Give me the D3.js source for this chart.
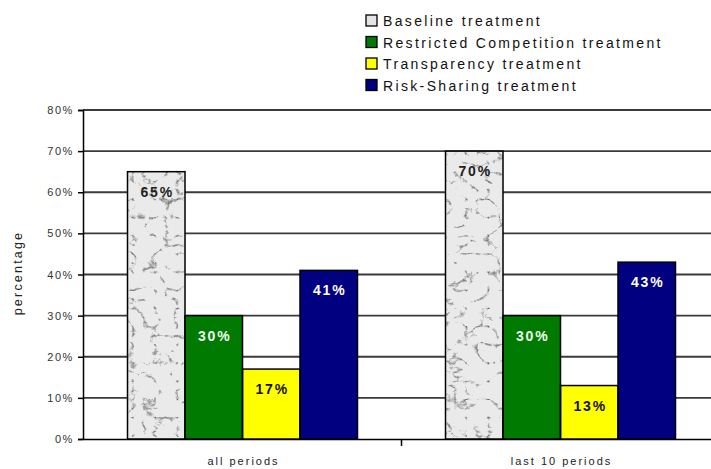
<!DOCTYPE html>
<html>
<head>
<meta charset="utf-8">
<script src="https://cdn.jsdelivr.net/npm/d3@7"></script>
<style>
  html, body { margin: 0; padding: 0; background: #fff; }
  svg { display: block; font-family: "Liberation Sans", Arial, sans-serif; }
</style>
</head>
<body>
<svg id="chart" width="711" height="469"></svg>
<script>
// Share of outcomes per treatment, over all periods and the last 10 periods
const groups = ["all periods", "last 10 periods"];
const series = [
  "Baseline treatment",
  "Restricted Competition treatment",
  "Transparency treatment",
  "Risk-Sharing treatment"
];
const allPeriods = [0.65, 0.30, 0.17, 0.41];
const last10Periods = [0.70, 0.30, 0.13, 0.43];
const yTicks = [0, 0.1, 0.2, 0.3, 0.4, 0.5, 0.6, 0.7, 0.8];
const seriesColors = ["#e4e4e4", "#007a00", "#ffff00", "#000080"];
const labelColors = ["#222", "#f0fff0", "#111", "#fff"];

const rows = [allPeriods, last10Periods];

const svg = d3.select("#chart");
const W = 711, H = 469;
const plot = { left: 83, right: 719.5, top: 110, bottom: 439 };

// Marble texture for the baseline bars: grey veins on a light ground
const defs = svg.append("defs");
const f = defs.append("filter").attr("id", "marble")
  .attr("x", 0).attr("y", 0).attr("width", 1).attr("height", 1)
  .attr("color-interpolation-filters", "sRGB");
f.append("feTurbulence").attr("type", "turbulence")
  .attr("baseFrequency", "0.045 0.055").attr("numOctaves", 4).attr("seed", 5)
  .attr("result", "noise");
f.append("feColorMatrix").attr("in", "noise").attr("type", "matrix")
  .attr("values", "3 0 0 0 0.45  3 0 0 0 0.45  3 0 0 0 0.45  0 0 0 0 1")
  .attr("result", "gray");
f.append("feGaussianBlur").attr("in", "gray").attr("stdDeviation", 0.7).attr("result", "soft");
f.append("feComponentTransfer").attr("in", "soft").attr("result", "tone")
  .call(t => ["feFuncR", "feFuncG", "feFuncB"].forEach(c =>
    t.append(c).attr("type", "linear").attr("slope", 0.92).attr("intercept", 0)));
f.append("feComposite").attr("in", "tone").attr("in2", "SourceGraphic").attr("operator", "in");

const y = d3.scaleLinear().domain([0, 0.8]).range([plot.bottom, plot.top]);
const x0 = d3.scaleBand().domain(groups).range([plot.left + 0.5, plot.right]).padding(0);
const x1 = d3.scaleBand().domain(series).range([44, x0.bandwidth() - 44]).padding(0);

// Horizontal gridlines
svg.append("g").selectAll("line")
  .data(yTicks.filter(d => d > 0))
  .join("line")
  .attr("x1", plot.left).attr("x2", W)
  .attr("y1", d => y(d)).attr("y2", d => y(d))
  .attr("stroke", "#3a3a3a").attr("stroke-width", 1.8);

// Y axis
const yAxis = d3.axisLeft(y).tickValues(yTicks).tickSize(5).tickPadding(5)
  .tickFormat(d => Math.round(d * 100) + "%");
const gy = svg.append("g").attr("transform", `translate(${plot.left},0)`).call(yAxis);
gy.select(".domain").attr("stroke", "#000").attr("stroke-width", 1.5);
gy.selectAll(".tick line").attr("stroke", "#000").attr("stroke-width", 1.5);
gy.selectAll(".tick text")
  .attr("font-family", "Liberation Sans, Arial, sans-serif")
  .attr("font-size", 11).attr("fill", "#333")
  .attr("letter-spacing", 1.6)
  .attr("x", -9);

// X axis
const xAxis = d3.axisBottom(x0).tickSize(0).tickFormat("");
const gx = svg.append("g").attr("transform", `translate(0,${plot.bottom})`).call(xAxis);
gx.select(".domain").attr("stroke", "#000").attr("stroke-width", 1.5);
gx.selectAll(".tick").remove();
// category divider ticks
gx.selectAll("line.div")
  .data(groups.slice(1))
  .join("line").attr("class", "div")
  .attr("x1", d => x0(d)).attr("x2", d => x0(d))
  .attr("y1", 0).attr("y2", 7)
  .attr("stroke", "#000").attr("stroke-width", 1.5);
gx.selectAll("text.cat")
  .data(groups)
  .join("text").attr("class", "cat")
  .attr("x", d => x0(d) + x0.bandwidth() / 2 + 1)
  .attr("y", 26)
  .attr("text-anchor", "middle")
  .attr("font-size", 11).attr("fill", "#222")
  .attr("letter-spacing", 2)
  .text(d => d);

// Bars
const barData = [];
groups.forEach((g, gi) => series.forEach((s, si) => {
  barData.push({ group: g, series: s, si, value: rows[gi][si] });
}));

const bars = svg.append("g");
const bx = d => x0(d.group) + x1(d.series);

bars.selectAll("rect.fill")
  .data(barData)
  .join("rect").attr("class", "fill")
  .attr("x", bx)
  .attr("y", d => y(d.value))
  .attr("width", x1.bandwidth())
  .attr("height", d => y(0) - y(d.value))
  .attr("fill", d => seriesColors[d.si])
  .attr("filter", d => d.si === 0 ? "url(#marble)" : null);

bars.selectAll("rect.edge")
  .data(barData)
  .join("rect").attr("class", "edge")
  .attr("x", bx)
  .attr("y", d => y(d.value))
  .attr("width", x1.bandwidth())
  .attr("height", d => y(0) - y(d.value))
  .attr("fill", "none")
  .attr("stroke", "#000").attr("stroke-width", 1.5);

// Value labels inside bars
bars.selectAll("text.val")
  .data(barData)
  .join("text").attr("class", "val")
  .attr("x", d => bx(d) + x1.bandwidth() / 2 + 1)
  .attr("y", d => y(d.value) + 25)
  .attr("text-anchor", "middle")
  .attr("font-size", 14).attr("font-weight", "bold")
  .attr("letter-spacing", 1.8)
  .attr("fill", d => labelColors[d.si])
  .text(d => Math.round(d.value * 100) + "%");

// Y axis title
svg.append("text")
  .attr("transform", "translate(22,273) rotate(-90)")
  .attr("text-anchor", "middle")
  .attr("font-size", 12.5).attr("fill", "#222")
  .attr("letter-spacing", 2.2)
  .text("percentage");

// Legend
const legend = svg.append("g").attr("transform", "translate(366,0)");
const li = legend.selectAll("g").data(series).join("g")
  .attr("transform", (d, i) => `translate(0,${26 + i * 21.5})`);
li.append("rect")
  .attr("x", 0).attr("y", -11).attr("width", 11).attr("height", 11)
  .attr("fill", (d, i) => seriesColors[i])
  .attr("stroke", "#000").attr("stroke-width", 1.3);
li.append("text")
  .attr("x", 17).attr("y", 0)
  .attr("font-size", 14).attr("fill", "#111")
  .attr("letter-spacing", 2.35)
  .text(d => d);
</script>
</body>
</html>
